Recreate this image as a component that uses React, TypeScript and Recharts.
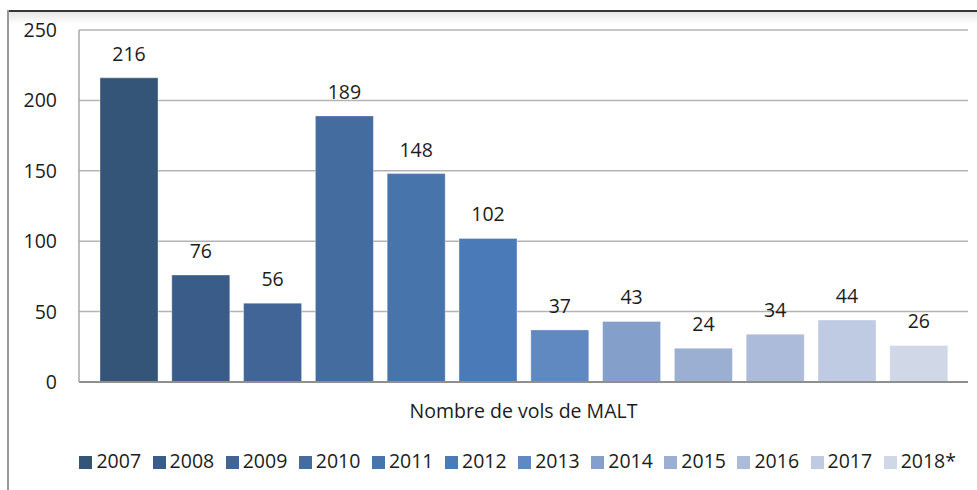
import React from 'react';
import { BarChart, Bar, XAxis, YAxis, CartesianGrid, Legend, LabelList } from 'recharts';

const years = ['2007', '2008', '2009', '2010', '2011', '2012', '2013', '2014', '2015', '2016', '2017', '2018*'];
const values = [216, 76, 56, 189, 148, 102, 37, 43, 24, 34, 44, 26];
const colors = ['#345478', '#3A5C88', '#406596', '#456C9F', '#4874AC', '#4B7AB8', '#6189C1', '#839FCA', '#9AAFD1', '#ABBBD9', '#BFCBE3', '#D0D7E6'];
const category = 'Nombre de vols de MALT';
const yTicks = [0, 50, 100, 150, 200, 250];

const row: Record<string, string | number> = { name: category };
years.forEach((y, i) => {
  row['s' + i] = values[i];
});
const data = [row];

const FONT = '"Open Sans", sans-serif';
const TEXT = '#1c1c1c';

export default function App() {
  return (
    <div style={{ position: 'absolute', left: 0, top: 0, width: 977, height: 490, background: '#fff', overflow: 'hidden', fontFamily: FONT }}>
      <div style={{ position: 'absolute', left: 8, top: 10, width: 969, height: 2, background: '#353535' }} />
      <div style={{ position: 'absolute', left: 9, top: 12, width: 968, height: 12, background: 'linear-gradient(#e6e6e6, #ffffff)' }} />
      <div style={{ position: 'absolute', left: 7, top: 10, width: 2, height: 480, background: '#9a9a9a' }} />
      <div style={{ position: 'absolute', left: 0, top: 0 }}>
        <BarChart
          width={977}
          height={490}
          data={data}
          margin={{ top: 30, right: 9, bottom: 70, left: 19 }}
          barGap={13.8}
          barSize={58}
        >
          <CartesianGrid vertical={false} stroke="#b4b4b4" strokeWidth={1.5} />
          <XAxis
            dataKey="name"
            height={38}
            tickLine={false}
            tickSize={6}
            tickMargin={16}
            axisLine={{ stroke: '#8f8f8f', strokeWidth: 2 }}
            tick={{ fill: TEXT, fontSize: 19.5, fontFamily: FONT }}
          />
          <YAxis
            width={60}
            domain={[0, 250]}
            ticks={yTicks}
            interval={0}
            tickLine={false}
            tickSize={4}
            tickMargin={18}
            axisLine={{ stroke: '#a8a8a8', strokeWidth: 1.5 }}
            tick={{ fill: TEXT, fontSize: 19.5, fontFamily: FONT }}
          />
          <Legend
            verticalAlign="middle"
            align="center"
            layout="horizontal"
            iconType="square"
            iconSize={13}
            wrapperStyle={{ left: 79, width: 889, top: 447, fontSize: 19.5, fontFamily: FONT }}
            formatter={(value: string) => <span style={{ color: TEXT, marginRight: 1.5 }}>{value}</span>}
          />
          {years.map((y, i) => (
            <Bar
              key={y}
              dataKey={'s' + i}
              name={y}
              fill={colors[i]}
              stroke="rgba(255,255,255,0.35)"
              strokeWidth={1}
              isAnimationActive={false}
            >
              <LabelList dataKey={'s' + i} position="top" offset={17} fill={TEXT} fontSize={19.5} fontFamily={FONT} />
            </Bar>
          ))}
        </BarChart>
      </div>
    </div>
  );
}
